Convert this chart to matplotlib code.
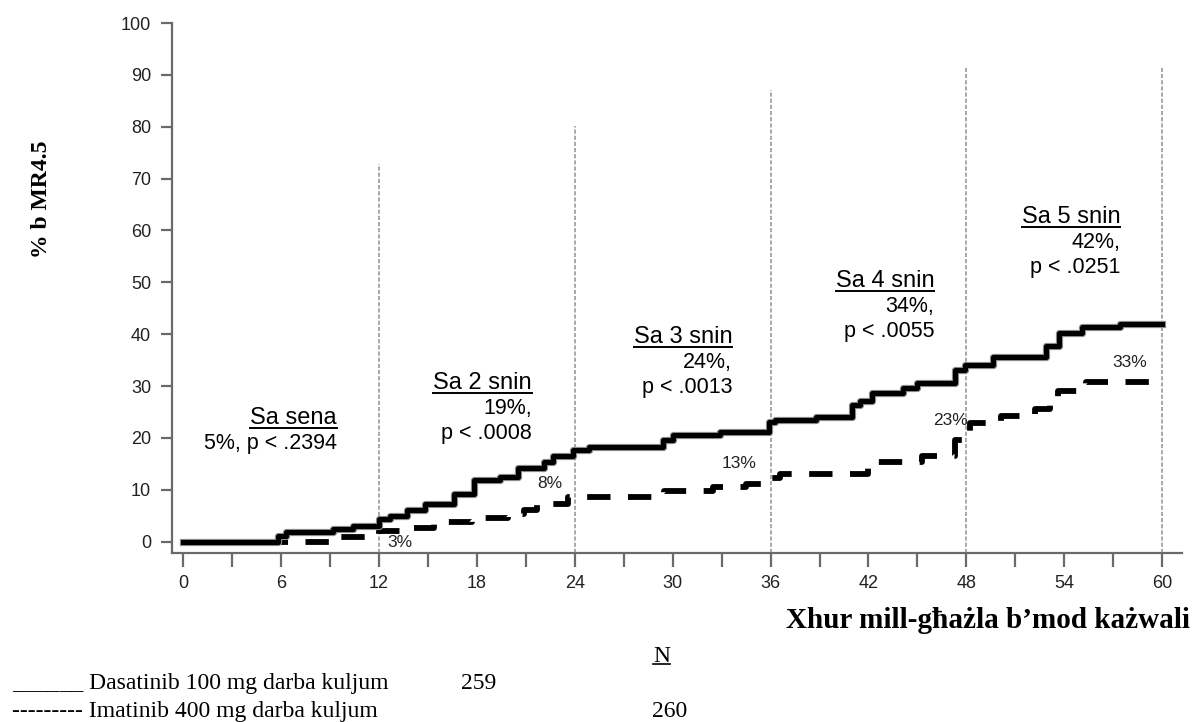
import matplotlib
matplotlib.use("Agg")
import matplotlib.pyplot as plt
from matplotlib.lines import Line2D

# cumulative MR4.5 (%), step function (post)
dasatinib_months = [0, 5.8, 6.3, 9.2, 10.4, 12.0, 12.7, 13.7, 14.8, 16.6, 17.8, 19.4,
                    20.5, 22.1, 22.7, 23.9, 24.9, 29.4, 30.0, 32.9, 35.9, 36.3, 38.8,
                    41.0, 41.5, 42.2, 44.1, 45.0, 47.3, 47.9, 49.6, 52.9, 53.7, 55.1,
                    57.4, 60.0]
dasatinib_pct = [0, 1.0, 1.8, 2.5, 3.1, 4.4, 5.0, 6.0, 7.3, 9.2, 11.8, 12.4,
                 14.1, 15.3, 16.6, 17.6, 18.3, 19.5, 20.5, 21.1, 23.0, 23.5, 24.0,
                 26.3, 27.2, 28.6, 29.7, 30.5, 33.0, 34.0, 35.5, 37.8, 40.3, 41.3,
                 41.9, 41.9]

imatinib_months = [0, 9.2, 12.0, 13.3, 15.4, 17.7, 19.9, 20.9, 21.7, 23.6, 29.5, 32.5,
                   34.5, 35.9, 36.6, 42.0, 45.3, 47.3, 47.7, 48.2, 50.1, 52.2, 53.1,
                   53.6, 55.3, 59.2, 59.4]
imatinib_pct = [0, 0.8, 2.0, 2.7, 3.7, 4.6, 5.3, 6.0, 7.3, 8.6, 9.8, 10.6,
                11.2, 12.3, 13.0, 15.4, 16.6, 19.5, 20.5, 22.8, 24.3, 25.6, 26.8,
                29.0, 30.7, 31.2, 31.2]

# yearly landmarks
landmark_months = [12, 24, 36, 48, 60]
landmark_tops = [72.8, 80.1, 87.0, 91.5, 91.5]
landmark_titles = ["Sa sena", "Sa 2 snin", "Sa 3 snin", "Sa 4 snin", "Sa 5 snin"]
landmark_stats = [["5%, p < .2394"], ["19%,", "p < .0008"], ["24%,", "p < .0013"],
                  ["34%,", "p < .0055"], ["42%,", "p < .0251"]]
imatinib_labels = ["3%", "8%", "13%", "23%", "33%"]

# where the landmark texts sit (right edge x, title baseline y)
title_pos = [(9.44, 22.7), (21.39, 29.4), (33.65, 38.3), (46.03, 49.1), (57.42, 61.4)]
im_label_pos = [(13.3, -0.1), (22.5, 11.2), (34.1, 15.0), (47.0, 23.4), (58.0, 34.5)]

W, H = 1199, 722
fig = plt.figure(figsize=(W / 100, H / 100), dpi=100)
ax = fig.add_axes([172 / W, 1 - 553 / H, (1182 - 172) / W, (553 - 23) / H])

ax.set_xlim(-0.674, 61.21)
ax.set_ylim(-2.2, 100)

for m, top in zip(landmark_months, landmark_tops):
    ax.vlines(m, -2.2, top, colors="#9a9a9a", linestyles=(0, (2.5, 1.2)), lw=1.2, zorder=1)

ax.step(imatinib_months, imatinib_pct, where="post", color="black", lw=4.2,
        linestyle=(0, (4, 3)), zorder=2)
ax.step(dasatinib_months, dasatinib_pct, where="post", color="#8a8a8a", lw=5.2, zorder=3)
ax.step(dasatinib_months, dasatinib_pct, where="post", color="black", lw=3.6, zorder=4)

for s in ["top", "right"]:
    ax.spines[s].set_visible(False)
for s in ["left", "bottom"]:
    ax.spines[s].set_color("#6a6a6a")
    ax.spines[s].set_linewidth(1.6)

ax.set_xticks(range(0, 61, 6))
ax.set_xticks(range(0, 61, 3), minor=True)
ax.set_yticks(range(0, 101, 10))
ax.tick_params(axis="x", which="both", length=10, width=1.6, color="#6a6a6a",
               labelsize=13, pad=6)
ax.tick_params(axis="y", length=8, width=1.6, color="#6a6a6a", labelsize=13, pad=7)
for lab in ax.get_xticklabels() + ax.get_yticklabels():
    lab.set_family("Liberation Sans")
    lab.set_color("#222222")

sans = "Liberation Sans"
serif = "Liberation Serif"

titles = []
for (x, y), title, stats in zip(title_pos, landmark_titles, landmark_stats):
    t = ax.text(x, y, title, ha="right", va="baseline", fontsize=17, family=sans)
    titles.append((t, x, y))
    for i, line in enumerate(stats):
        ax.text(x, y - 4.85 * (i + 1), line, ha="right", va="baseline",
                fontsize=15.5, family=sans)

for (x, y), lab in zip(im_label_pos, imatinib_labels):
    ax.text(x, y, lab, ha="center", va="center", fontsize=12.5, family=sans,
            color="#222222")

fig.text(42 / W, 1 - 199 / H, "% b MR4.5", rotation=90, ha="center", va="center",
         fontsize=17, fontweight="bold", family=serif)
fig.text(1190 / W, 1 - 620 / H, "Xhur mill-għażla b’mod każwali", ha="right",
         va="center", fontsize=21, fontweight="bold", family=serif)

leg_n = fig.text(653 / W, 1 - 662 / H, "N", ha="left", va="baseline", fontsize=17,
                 family=serif)
fig.text(12 / W, 1 - 689 / H, "______ Dasatinib 100 mg darba kuljum", ha="left",
         va="baseline", fontsize=17, family=serif)
fig.text(461 / W, 1 - 689 / H, "259", ha="left", va="baseline", fontsize=17, family=serif)
fig.text(12 / W, 1 - 717 / H, "--------- Imatinib 400 mg darba kuljum", ha="left",
         va="baseline", fontsize=17, family=serif)
fig.text(652 / W, 1 - 717 / H, "260", ha="left", va="baseline", fontsize=17, family=serif)

# underline the titles and the N heading
fig.canvas.draw()
renderer = fig.canvas.get_renderer()
for t, x, y in titles:
    bb = t.get_window_extent(renderer)
    yb = ax.transData.transform((x, y))[1] - 4
    fig.add_artist(Line2D([bb.x0 / W, bb.x1 / W], [yb / H, yb / H], color="black", lw=1.4))
bb = leg_n.get_window_extent(renderer)
yb = (H - 664)
fig.add_artist(Line2D([bb.x0 / W, bb.x1 / W], [yb / H, yb / H], color="black", lw=1.2))

fig.savefig("out.png", dpi=100)
